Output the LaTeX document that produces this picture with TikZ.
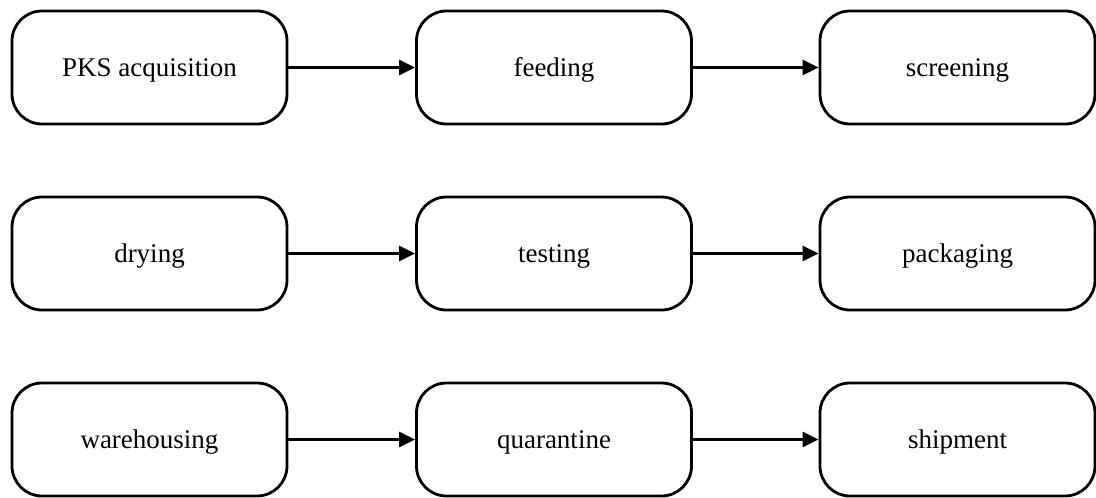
\documentclass[tikz,border=0pt]{standalone}
\usepackage{fontspec}
\setmainfont{Liberation Serif}
\usetikzlibrary{arrows.meta}
\begin{document}
\begin{tikzpicture}[x=1pt,y=-1pt,
  stage/.style={draw=black, line width=2.8pt, rounded corners=30pt,
    minimum width=275pt, minimum height=113pt, inner sep=0pt,
    text height=21pt, text depth=4pt,
    font=\fontsize{27}{32}\selectfont},
  flow/.style={line width=2.8pt, -{Triangle[length=16pt,width=15pt]}}]
  \useasboundingbox (0,0) rectangle (1096,498);
  % row 1
  \node[stage] (acq)  at (149.5,67.5) {PKS acquisition};
  \node[stage] (feed) at (554,67.5)   {feeding};
  \node[stage] (scr)  at (957.5,67.5) {screening};
  % row 2
  \node[stage] (dry)  at (149.5,253.5) {drying};
  \node[stage] (test) at (554,253.5)   {testing};
  \node[stage] (pack) at (957.5,253.5) {packaging};
  % row 3
  \node[stage] (ware) at (149.5,439.5) {warehousing};
  \node[stage] (quar) at (554,439.5)   {quarantine};
  \node[stage] (ship) at (957.5,439.5) {shipment};
  % connectors
  \draw[flow] (acq.east)  -- (feed.west);
  \draw[flow] (feed.east) -- (scr.west);
  \draw[flow] (dry.east)  -- (test.west);
  \draw[flow] (test.east) -- (pack.west);
  \draw[flow] (ware.east) -- (quar.west);
  \draw[flow] (quar.east) -- (ship.west);
\end{tikzpicture}
\end{document}
